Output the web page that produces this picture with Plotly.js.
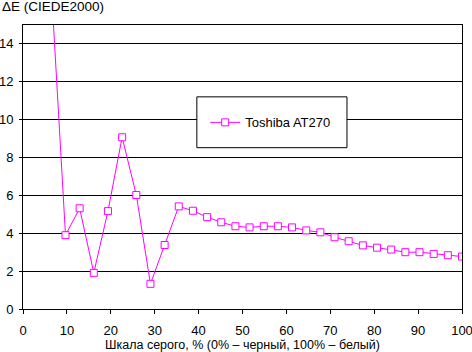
<!DOCTYPE html>
<html><head><meta charset="utf-8">
<script src="https://cdn.plot.ly/plotly-3.0.1.min.js"></script>
<style>body{margin:0;padding:0;background:#fff}#chart{width:472px;height:352px}</style>
</head><body><div id="chart"></div>
<script>
const seriesName = "Toshiba AT270";
const grayPercent = [6.45,9.68,12.9,16.13,19.35,22.58,25.81,29.03,32.26,35.48,38.71,41.94,45.16,48.39,51.61,54.84,58.06,61.29,64.52,67.74,70.97,74.19,77.42,80.65,83.87,87.1,90.32,93.55,96.77,100];
const deltaE = [17.0,3.9,5.32,1.91,5.17,9.07,6.02,1.33,3.38,5.42,5.19,4.85,4.58,4.37,4.31,4.37,4.37,4.31,4.15,4.05,3.79,3.58,3.36,3.24,3.14,3.0,3.0,2.91,2.84,2.77];
const xTicks = [0,10,20,30,40,50,60,70,80,90,100];
const yTicks = [0,2,4,6,8,10,12,14];
const fam = "Liberation Sans, Arial, sans-serif";
const font13 = {family: fam, size: 13, color: "#000"};
const font135 = {family: fam, size: 13.5, color: "#000"};
const font125 = {family: fam, size: 12.5, color: "#000"};
const trace = {
  x: grayPercent, y: deltaE, name: seriesName, type: "scatter", mode: "lines+markers",
  line: {color: "#FF00FF", width: 1},
  marker: {symbol: "square", size: 7, color: "#FFFFFF", line: {color: "#FF00FF", width: 1}},
  cliponaxis: true
};
const layout = {
  width: 472, height: 352,
  margin: {l: 23, r: 10, t: 25, b: 42.5, pad: 0},
  paper_bgcolor: "#fff", plot_bgcolor: "#fff",
  font: font13,
  showlegend: true,
  legend: {x: 0.415, y: 0.657, xanchor: "left", yanchor: "middle", bgcolor: "rgba(0,0,0,0)", borderwidth: 0, font: font13},
  xaxis: {
    range: [0, 100], tickvals: xTicks, ticktext: xTicks.map(String),
    showgrid: false, zeroline: false, showline: true, linecolor: "#000", linewidth: 1, mirror: true,
    ticks: "outside", ticklen: 4, tickcolor: "#000", tickfont: font13,
    ticklabelstandoff: 5, ticklabeloverflow: "allow",
    title: {text: "Шкала серого, % (0% – черный, 100% – белый)", font: font125, standoff: 0},
    fixedrange: true
  },
  yaxis: {
    range: [0, 15], tickvals: yTicks, ticktext: yTicks.map(String),
    showgrid: true, gridcolor: "#000", gridwidth: 1, zeroline: false,
    showline: true, linecolor: "#000", linewidth: 1, mirror: true,
    ticks: "outside", ticklen: 3, tickcolor: "#000", tickfont: font13,
    ticklabelstandoff: 3, ticklabeloverflow: "allow", fixedrange: true
  },
  shapes: [{type: "rect", xref: "paper", yref: "paper", x0: 0.396, x1: 0.738, y0: 0.568, y1: 0.747,
    fillcolor: "#fff", line: {color: "#000", width: 1}, layer: "above"}],
  annotations: [{text: "ΔE (CIEDE2000)", xref: "paper", yref: "paper", x: -23/439, y: 1 + 19/284.5,
    xanchor: "left", yanchor: "middle", showarrow: false, font: font135}]
};
Plotly.newPlot("chart", [trace], layout, {displayModeBar: false, staticPlot: true});
</script></body></html>
